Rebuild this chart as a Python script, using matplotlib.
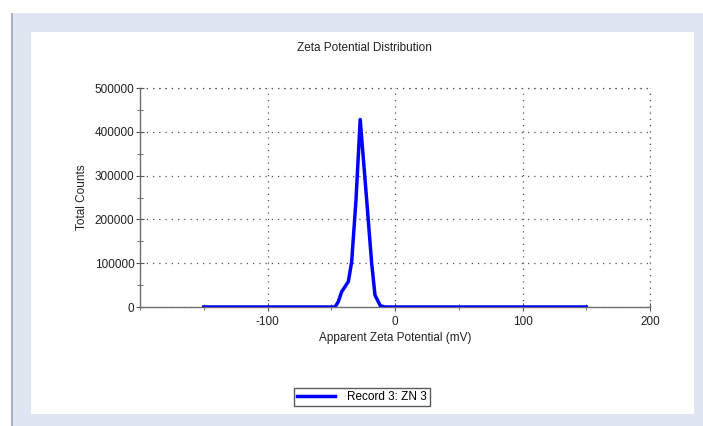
import matplotlib.pyplot as plt
from matplotlib.patches import Rectangle
from matplotlib.ticker import MultipleLocator

plt.rcParams['font.family'] = ['Liberation Sans', 'DejaVu Sans']

# zeta potential (mV) vs total counts
zeta = [-150, -47.0, -44.5, -41.8, -36.6, -34.0, -30.6, -27.3, -22.2, -18.3, -15.7, -11.5, -8.0, 150]
counts = [0, 0, 12000, 35000, 58000, 103000, 244000, 428000, 244000, 100000, 27000, 3000, 0, 0]

title = 'Zeta Potential Distribution'
xlabel = 'Apparent Zeta Potential (mV)'
ylabel = 'Total Counts'
legend_label = 'Record 3: ZN 3'

W, H = 703, 426
fig = plt.figure(figsize=(W / 100, H / 100), dpi=100)
fig.patch.set_facecolor('white')

# outer frame and white panel
fig.patches.append(Rectangle((11 / W, 0), 1 - 11 / W, 1 - 13 / H, transform=fig.transFigure,
                             facecolor='#dfe6f1', edgecolor='none', zorder=-3))
fig.patches.append(Rectangle((11 / W, 0), 2 / W, 1 - 13 / H, transform=fig.transFigure,
                             facecolor='#a9b0ba', edgecolor='none', zorder=-2))
fig.patches.append(Rectangle((31 / W, 12 / H), (694 - 31) / W, (426 - 32 - 12) / H,
                             transform=fig.transFigure, facecolor='white', edgecolor='none', zorder=-1))

ax = fig.add_axes([140 / W, (H - 307) / H, 510 / W, 219 / H])
ax.set_facecolor('none')
line, = ax.plot(zeta, counts, color='#0000ff', lw=2.5, zorder=3)

ax.set_xlim(-200, 200)
ax.set_ylim(0, 500000)
ax.xaxis.set_major_locator(MultipleLocator(100))
ax.xaxis.set_minor_locator(MultipleLocator(50))
ax.yaxis.set_major_locator(MultipleLocator(100000))
ax.yaxis.set_minor_locator(MultipleLocator(50000))
ax.set_xticks([-100, 0, 100, 200])
ax.set_xticklabels(['-100', '0', '100', '200'])

for s in ['top', 'right']:
    ax.spines[s].set_visible(False)
for s in ['left', 'bottom']:
    ax.spines[s].set_color('#6e6e6e')
    ax.spines[s].set_linewidth(1.0)

ax.tick_params(which='both', direction='inout', color='#555555', labelsize=8.5,
               labelcolor='#222222')
ax.tick_params(which='major', length=6)
ax.tick_params(which='minor', length=5)
ax.tick_params(axis='y', pad=1)

ax.grid(True, which='major', linestyle=(0, (1, 4)), color='#555555', lw=0.9)
# top and right gridlines at the limits
ax.axhline(500000, linestyle=(0, (1, 4)), color='#555555', lw=0.9, clip_on=False)
ax.axvline(200, linestyle=(0, (1, 4)), color='#555555', lw=0.9, clip_on=False)

# title is centred on the white panel, not on the axes
fig.text(364 / W, 1 - 48 / H, title, fontsize=8.5, color='#222222', ha='center', va='center')
ax.set_xlabel(xlabel, fontsize=8.5, color='#222222', labelpad=3)
ax.set_ylabel(ylabel, fontsize=8.5, color='#222222', labelpad=5)

leg = fig.legend([line], [legend_label], loc='center',
                 bbox_to_anchor=(362 / W, 1 - 397 / H), fontsize=8.5,
                 frameon=True, fancybox=False, handlelength=3.2, handletextpad=1.0,
                 borderpad=0.25, borderaxespad=0)
leg.get_frame().set_edgecolor('#333333')
leg.get_frame().set_linewidth(1.0)

fig.savefig('out.png', dpi=100)
